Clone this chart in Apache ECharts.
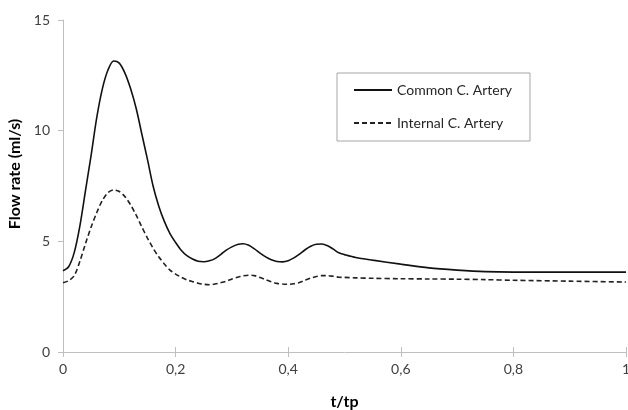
<!DOCTYPE html>
<html>
<head>
<meta charset="utf-8">
<script src="https://cdn.jsdelivr.net/npm/echarts@6/dist/echarts.min.js"></script>
<style>
html,body{margin:0;padding:0;background:#fff;}
#chart{width:628px;height:410px;}
</style>
</head>
<body>
<div id="chart"></div>
<script>
var tValues = [0,0.01,0.02,0.03,0.04,0.05,0.06,0.07,0.08,0.09,0.1,0.11,0.12,0.13,0.14,0.15,0.16,0.17,0.18,0.19,0.2,0.21,0.22,0.23,0.24,0.25,0.26,0.27,0.28,0.29,0.3,0.31,0.32,0.33,0.34,0.35,0.36,0.37,0.38,0.39,0.4,0.41,0.42,0.43,0.44,0.45,0.46,0.47,0.48,0.49,0.5,0.52,0.55,0.6,0.65,0.7,0.75,0.8,0.9,1.0];
var commonArtery = [3.67,3.85,4.5,5.7,7.3,8.9,10.6,11.9,12.75,13.15,13.05,12.6,11.9,11.0,9.85,8.7,7.5,6.6,5.9,5.35,4.95,4.6,4.35,4.2,4.1,4.08,4.12,4.22,4.4,4.6,4.75,4.86,4.89,4.82,4.66,4.47,4.3,4.17,4.09,4.07,4.12,4.25,4.42,4.62,4.78,4.87,4.88,4.8,4.65,4.48,4.4,4.27,4.15,3.97,3.8,3.7,3.63,3.61,3.61,3.61];
var internalArtery = [3.13,3.22,3.45,4.1,4.9,5.65,6.3,6.85,7.2,7.32,7.25,7.02,6.65,6.18,5.65,5.15,4.69,4.3,3.98,3.7,3.52,3.38,3.26,3.18,3.11,3.06,3.04,3.07,3.13,3.2,3.3,3.38,3.44,3.47,3.45,3.37,3.27,3.17,3.1,3.07,3.06,3.08,3.14,3.24,3.34,3.41,3.45,3.45,3.42,3.38,3.37,3.35,3.33,3.31,3.3,3.29,3.27,3.24,3.2,3.16];
var seriesNames = ['Common C. Artery','Internal C. Artery'];
var xTickLabels = ['0','0,2','0,4','0,6','0,8','1'];
var yTickLabels = ['0','5','10','15'];
var xTitle = 't/tp';
var yTitle = 'Flow rate (ml/s)';

function pairs(ys){ return tValues.map(function(t,i){ return [t, ys[i]]; }); }

var font = 'Lato, "Open Sans", sans-serif';
var axisColor = '#bfbfbf';
var chart = echarts.init(document.getElementById('chart'), null, {renderer:'canvas'});
chart.setOption({
  animation:false,
  backgroundColor:'#fff',
  grid:{left:63,right:2,top:20,bottom:58,containLabel:false,outerBoundsMode:'none'},
  graphic:[{
    type:'text', x:15, y:174, rotation:Math.PI/2,
    style:{text:yTitle, font:'bold 16px ' + font, fill:'#000', align:'center', verticalAlign:'middle'}
  }],
  legend:{
    orient:'vertical', left:337, top:73,
    padding:[10,18,11,16],
    itemWidth:38, itemHeight:14, itemGap:19,
    borderColor:'#a6a6a6', borderWidth:1,
    itemStyle:{opacity:0},
    textStyle:{fontFamily:font,fontSize:14,color:'#262626'},
    data:seriesNames
  },
  xAxis:[{
    type:'value', min:0, max:1, interval:0.2,
    name:xTitle, nameLocation:'middle', nameGap:42,
    nameTextStyle:{fontFamily:font,fontSize:16,fontWeight:'bold',color:'#000'},
    axisLine:{show:true,lineStyle:{color:axisColor,width:1}},
    axisTick:{show:true,length:5,lineStyle:{color:axisColor}},
    axisLabel:{fontFamily:font,fontSize:14,color:'#404040',margin:10,
      formatter:function(v){return xTickLabels[Math.round(v/0.2)];}},
    splitLine:{show:false}
  },{
    type:'value', min:0, max:1, interval:0.2, position:'bottom',
    axisLine:{show:false},
    axisTick:{show:true,inside:true,length:5,lineStyle:{color:axisColor}},
    axisLabel:{show:false},
    splitLine:{show:false}
  }],
  yAxis:{
    type:'value', min:0, max:15, interval:5,
    axisLine:{show:true,lineStyle:{color:axisColor,width:1}},
    axisTick:{show:true,length:5,lineStyle:{color:axisColor}},
    axisLabel:{fontFamily:font,fontSize:14,color:'#404040',margin:13,
      formatter:function(v){return yTickLabels[Math.round(v/5)];}},
    splitLine:{show:false}
  },
  series:[{
    name:seriesNames[0], type:'line', data:pairs(commonArtery),
    symbol:'none', smooth:0.3,
    lineStyle:{color:'#111',width:1.6,type:'solid'},
    itemStyle:{color:'#111'}
  },{
    name:seriesNames[1], type:'line', data:pairs(internalArtery),
    symbol:'none', smooth:0.3,
    lineStyle:{color:'#222',width:1.6,type:[5,3]},
    itemStyle:{color:'#222'}
  }]
});
</script>
</body>
</html>
